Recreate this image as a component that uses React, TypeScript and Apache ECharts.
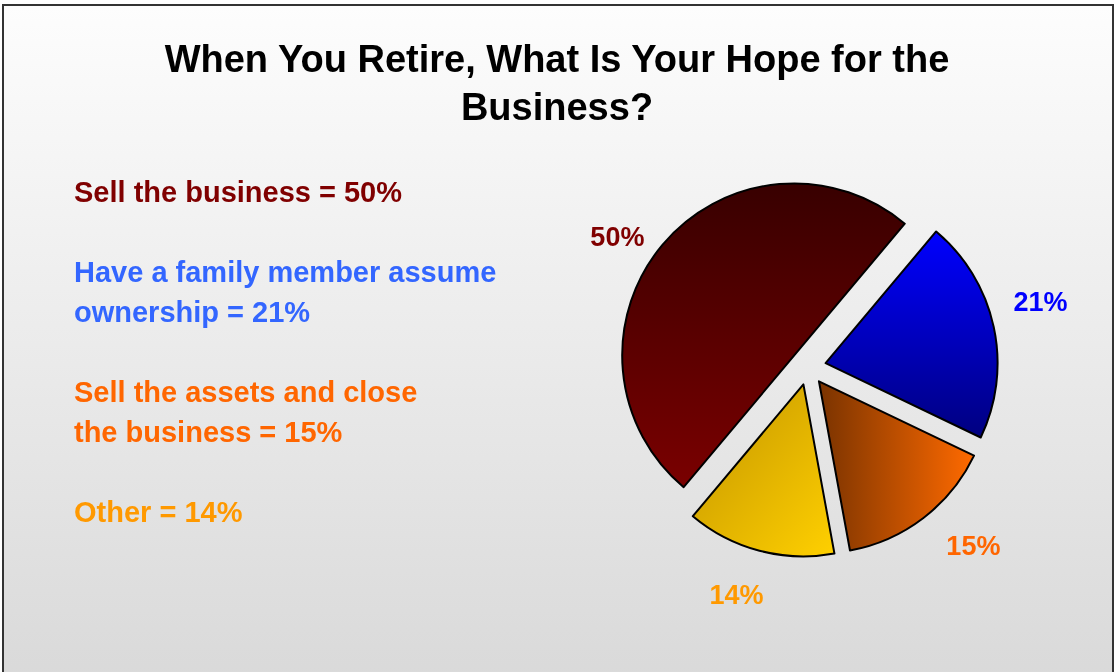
import React, { useEffect, useRef } from "react";
import * as echarts from "echarts";

const titleText = "When You Retire, What Is Your Hope for the\nBusiness?";
const categories = [
  "Sell the business",
  "Have a family member assume\nownership",
  "Sell the assets and close\nthe business",
  "Other",
];
const values = [50, 21, 15, 14];
const legendColors = ["#800000", "#3366ff", "#ff6600", "#ff9900"];
const labelColors = ["#800000", "#0000ff", "#ff6600", "#ff9900"];
const sliceStops = [
  ["#380000", "#7a0000"],
  ["#0000ff", "#000080"],
  ["#7a3300", "#ff6a00"],
  ["#c29400", "#ffd000"],
];
const sliceDirs = [
  [0, 0, 0, 1],
  [0, 0, 0, 1],
  [0, 0, 1, 0],
  [0, 0, 1, 1],
];
const labelOffsets = [
  [-6, 25],
  [-3, -14],
  [19, -12],
  [-10, -5],
];

const FONT = "'Liberation Sans', Arial, Helvetica, sans-serif";

function grad(dir: number[], stops: string[]) {
  return {
    type: "linear",
    x: dir[0],
    y: dir[1],
    x2: dir[2],
    y2: dir[3],
    colorStops: [
      { offset: 0, color: stops[0] },
      { offset: 1, color: stops[1] },
    ],
  };
}

export default function App() {
  const ref = useRef<HTMLDivElement>(null);

  useEffect(() => {
    if (!ref.current) return;
    const chart = echarts.init(ref.current, null, { renderer: "svg" });

    const legendText = categories
      .map((c, i) =>
        `${c} = ${values[i]}%`
          .split("\n")
          .map((l) => `{c${i}|${l}}`)
          .join("\n")
      )
      .join("\n\n");
    const rich: any = {};
    legendColors.forEach((col, i) => {
      rich[`c${i}`] = {
        color: col,
        fontSize: 29,
        fontWeight: "bold",
        lineHeight: 40,
        fontFamily: FONT,
      };
    });

    const names = categories.map((c) => c.replace("\n", " "));

    const option: any = {
      animation: false,
      graphic: [
        {
          type: "rect",
          z: -10,
          silent: true,
          shape: { x: 3, y: 5, width: 1110, height: 680 },
          style: {
            fill: grad([0, 0, 0, 1], ["#fdfdfd", "#d9d9d9"]),
            stroke: "#333333",
            lineWidth: 2,
          },
        },
      ],
      title: [
        {
          text: titleText,
          left: "center",
          top: 30,
          textStyle: {
            fontSize: 38,
            fontWeight: "bold",
            lineHeight: 48,
            color: "#000000",
            fontFamily: FONT,
          },
        },
        {
          text: legendText,
          left: 74,
          top: 172,
          padding: 0,
          textStyle: {
            fontSize: 29,
            fontWeight: "bold",
            lineHeight: 40,
            fontFamily: FONT,
            rich,
          },
        },
      ],
      series: [
        {
          type: "pie",
          center: [808, 367],
          radius: [0, 172],
          startAngle: 230,
          clockwise: true,
          selectedMode: "multiple",
          selectedOffset: 18,
          silent: true,
          avoidLabelOverlap: false,
          label: { show: false },
          labelLine: { show: false },
          data: values.map((v, i) => ({
            name: names[i],
            value: v,
            selected: true,
            itemStyle: {
              color: grad(sliceDirs[i], sliceStops[i]),
              borderColor: "#000000",
              borderWidth: 2,
            },
          })),
        },
        {
          type: "pie",
          center: [808, 367],
          radius: [200, 240],
          startAngle: 230,
          clockwise: true,
          selectedMode: "multiple",
          selectedOffset: 18,
          silent: true,
          avoidLabelOverlap: false,
          itemStyle: { color: "rgba(0,0,0,0)", borderWidth: 0 },
          labelLine: { show: false },
          label: {
            show: true,
            position: "inside",
            rotate: 0,
            fontSize: 27,
            fontWeight: "bold",
            fontFamily: FONT,
            formatter: (p: any) => `${p.value}%`,
          },
          labelLayout: (p: any) => ({
            dx: labelOffsets[p.dataIndex][0],
            dy: labelOffsets[p.dataIndex][1],
          }),
          data: values.map((v, i) => ({
            name: names[i],
            value: v,
            selected: true,
            label: { color: labelColors[i] },
          })),
        },
      ],
    };

    chart.setOption(option);
    return () => chart.dispose();
  }, []);

  return (
    <div
      ref={ref}
      style={{ position: "fixed", left: 0, top: 0, width: 1114, height: 672 }}
    />
  );
}
